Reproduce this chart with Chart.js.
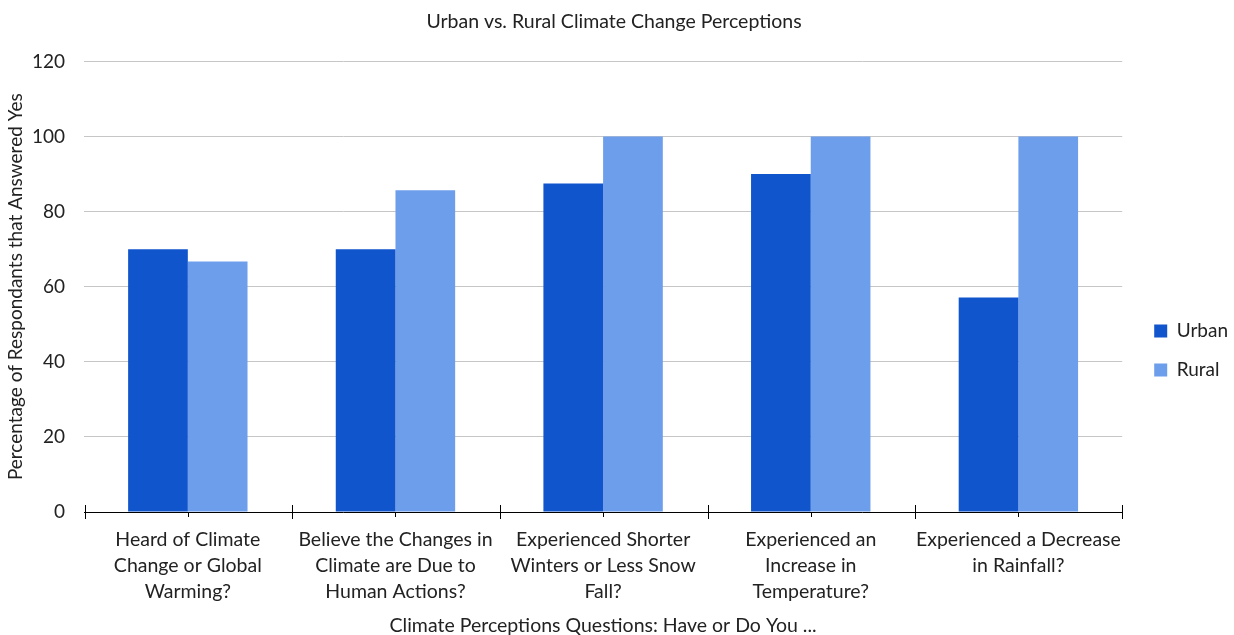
<!DOCTYPE html>
<html>
<head>
<meta charset="utf-8">
<script src="https://cdn.jsdelivr.net/npm/chart.js@4"></script>
<style>
  html, body { margin: 0; padding: 0; background: #fff; }
  #wrap { width: 1234px; height: 635px; }
</style>
</head>
<body>
<div id="wrap"><canvas id="chart"></canvas></div>
<script>
// data
const questions = [
    ['Heard of Climate', 'Change or Global', 'Warming?'],
    ['Believe the Changes in', 'Climate are Due to', 'Human Actions?'],
    ['Experienced Shorter', 'Winters or Less Snow', 'Fall?'],
    ['Experienced an', 'Increase in', 'Temperature?'],
    ['Experienced a Decrease', 'in Rainfall?']
];
const urban = [70, 70, 87.5, 90, 57.1];
const rural = [66.7, 85.7, 100, 100, 100];

const FONT = 'Lato, "Open Sans", sans-serif';

// x axis line ticks: long ones on category edges, short ones at centres
const axisTicks = {
    id: 'axisTicks',
    afterLayout(chart) {
        // push the legend a little further from the plot
        chart.legend.left += 12;
        chart.legend.right += 12;
    },
    afterDraw(chart) {
        const x = chart.scales.x;
        const y0 = chart.scales.y.getPixelForValue(0);
        const ctx = chart.ctx;
        const half = (x.getPixelForValue(1) - x.getPixelForValue(0)) / 2;
        ctx.save();
        ctx.strokeStyle = '#000';
        ctx.lineWidth = 1;
        ctx.beginPath();
        for (let i = 0; i < questions.length; i++) {
            const c = Math.round(x.getPixelForValue(i)) + 0.5;
            ctx.moveTo(c, y0);
            ctx.lineTo(c, y0 + 5);
            const l = Math.round(c - half) + 0.5;
            ctx.moveTo(l, y0 - 7);
            ctx.lineTo(l, y0 + 7);
        }
        const r = Math.round(x.getPixelForValue(questions.length - 1) + half) + 0.5;
        ctx.moveTo(r, y0 - 7);
        ctx.lineTo(r, y0 + 7);
        ctx.moveTo(x.left, Math.round(y0) + 0.5);
        ctx.lineTo(x.right, Math.round(y0) + 0.5);
        ctx.stroke();
        ctx.restore();
    }
};

const ctx = document.getElementById('chart').getContext('2d');
new Chart(ctx, {
    type: 'bar',
    data: {
        labels: questions,
        datasets: [
            {
                label: 'Urban',
                data: urban,
                backgroundColor: '#1155cc',
                categoryPercentage: 0.575,
                barPercentage: 1.0
            },
            {
                label: 'Rural',
                data: rural,
                backgroundColor: '#6d9eeb',
                categoryPercentage: 0.575,
                barPercentage: 1.0
            }
        ]
    },
    options: {
        responsive: true,
        maintainAspectRatio: false,
        animation: false,
        layout: { padding: { left: 2, right: 8, top: 10, bottom: 0 } },
        plugins: {
            title: {
                display: true,
                text: 'Urban vs. Rural Climate Change Perceptions',
                color: '#222',
                font: { family: FONT, size: 19.5, weight: 'normal', lineHeight: 1.2 },
                padding: { top: 0, bottom: 28 }
            },
            legend: {
                position: 'right',
                title: {
                    display: true,
                    text: ' ',
                    font: { size: 10 },
                    padding: { top: 0, bottom: 44 }
                },
                labels: {
                    color: '#222',
                    font: { family: FONT, size: 19 },
                    boxWidth: 13,
                    boxHeight: 13,
                    padding: 20
                }
            },
            tooltip: { enabled: false }
        },
        scales: {
            x: {
                grid: { display: false, drawTicks: false },
                border: { display: false },
                afterFit(scale) { scale.height = 123; },
                ticks: {
                    color: '#222',
                    font: { family: FONT, size: 19.5, lineHeight: 1.33 },
                    padding: 15,
                    maxRotation: 0,
                    autoSkip: false
                },
                title: {
                    display: true,
                    text: 'Climate Perceptions Questions: Have or Do You ...',
                    color: '#222',
                    font: { family: FONT, size: 19.5, lineHeight: 1.0 },
                    padding: { top: 10, bottom: 0 }
                }
            },
            y: {
                min: 0,
                max: 120,
                afterFit(scale) { scale.width = 82; },
                ticks: {
                    stepSize: 20,
                    color: '#222',
                    font: { family: FONT, size: 19 },
                    padding: 19
                },
                grid: { color: '#c6c6c6', drawTicks: false },
                border: { display: false },
                title: {
                    display: true,
                    text: 'Percentage of Respondants that Answered Yes',
                    color: '#222',
                    font: { family: FONT, size: 19, lineHeight: 1.2 },
                    padding: { top: 2, bottom: 4 }
                }
            }
        }
    },
    plugins: [axisTicks]
});
</script>
</body>
</html>
